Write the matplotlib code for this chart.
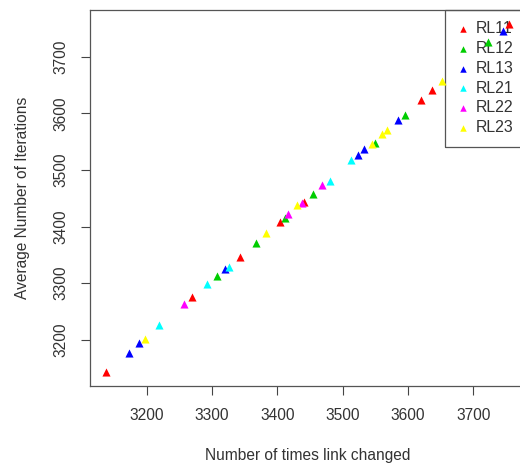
import matplotlib
matplotlib.use("Agg")
import matplotlib.pyplot as plt

plt.rcParams['font.family'] = ['Liberation Sans', 'DejaVu Sans']

# series: (links changed, avg iterations)
series_names = ['RL11', 'RL12', 'RL13', 'RL21', 'RL22', 'RL23']
series_colors = ['#ff0000', '#00cd00', '#0000ff', '#00ffff', '#ff00ff', '#ffff00']

rl11_x = [3138, 3270, 3343, 3404, 3440, 3620, 3636, 3755]
rl11_y = [3143, 3275, 3347, 3408, 3443, 3624, 3641, 3758]
rl12_x = [3307, 3367, 3412, 3454, 3550, 3596, 3722]
rl12_y = [3312, 3371, 3416, 3458, 3547, 3598, 3726]
rl13_x = [3173, 3188, 3320, 3523, 3532, 3584, 3745]
rl13_y = [3177, 3194, 3325, 3527, 3537, 3588, 3745]
rl21_x = [3219, 3293, 3326, 3480, 3513]
rl21_y = [3226, 3299, 3329, 3481, 3517]
rl22_x = [3257, 3416, 3438, 3469]
rl22_y = [3264, 3422, 3441, 3473]
rl23_x = [3198, 3382, 3430, 3545, 3560, 3568, 3652]
rl23_y = [3202, 3389, 3438, 3546, 3564, 3570, 3657]

all_x = [rl11_x, rl12_x, rl13_x, rl21_x, rl22_x, rl23_x]
all_y = [rl11_y, rl12_y, rl13_y, rl21_y, rl22_y, rl23_y]

xticks = [3200, 3300, 3400, 3500, 3600, 3700]
yticks = [3200, 3300, 3400, 3500, 3600, 3700]

fs = 11.2
txt_col = '#333333'

fig = plt.figure(figsize=(5.2, 4.68), dpi=100)
# axes frame runs a little past the right edge, like the cropped original
ax = fig.add_axes([90 / 520, (468 - 386) / 468, 435.5 / 520, 376 / 468])

for xs, ys, name, col in zip(all_x, all_y, series_names, series_colors):
    ax.scatter(xs, ys, marker='^', s=34, color=col, label=name,
               linewidths=0, zorder=6)

# R style 4% padding
xmin, xmax = min(min(v) for v in all_x), max(max(v) for v in all_x)
ymin, ymax = min(min(v) for v in all_y), max(max(v) for v in all_y)
dx, dy = (xmax - xmin) * 0.04, (ymax - ymin) * 0.04
ax.set_xlim(xmin - dx, xmax + dx)
ax.set_ylim(ymin - dy, ymax + dy)

ax.set_xticks(xticks)
ax.set_yticks(yticks)
ax.tick_params(axis='both', direction='out', length=6.5, width=0.8,
               colors='#444444', labelcolor=txt_col, labelsize=fs)
ax.tick_params(axis='x', pad=9)
ax.tick_params(axis='y', pad=9)
for lab in ax.get_yticklabels():
    lab.set_rotation(90)
    lab.set_va('center')

for sp in ax.spines.values():
    sp.set_color('#555555')
    sp.set_linewidth(0.9)

ax.set_xlabel('Number of times link changed', fontsize=fs, color=txt_col)
ax.set_ylabel('Average Number of Iterations', fontsize=fs, color=txt_col)
ax.xaxis.set_label_coords(0.5, -0.165)
ax.yaxis.set_label_coords(-0.138, 0.5)

leg = ax.legend(loc='upper right', bbox_to_anchor=(1.0, 1.0), borderaxespad=0,
                fontsize=11.4, handlelength=0.8, handletextpad=0.45,
                labelspacing=0.3, borderpad=0.72, fancybox=False,
                markerscale=0.8, facecolor='none', edgecolor='#555555',
                framealpha=1)
leg.get_frame().set_linewidth(0.9)
for t in leg.get_texts():
    t.set_color(txt_col)

fig.savefig('out.png', dpi=100)
